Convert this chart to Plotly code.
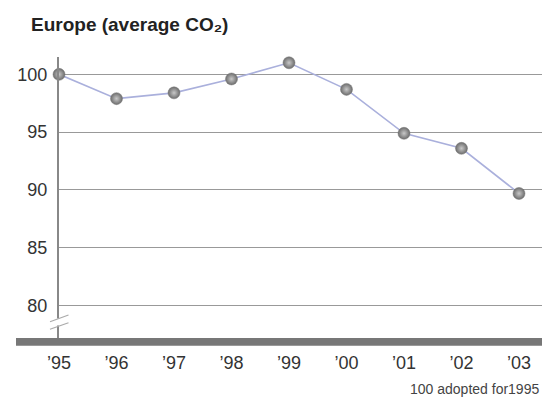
import plotly.graph_objects as go

years = [1995, 1996, 1997, 1998, 1999, 2000, 2001, 2002, 2003]
tick_labels = ["’95", "’96", "’97", "’98", "’99", "’00", "’01", "’02", "’03"]
co2_index = [100.0, 97.9, 98.4, 99.6, 101.0, 98.7, 94.9, 93.6, 89.7]
y_ticks = [80, 85, 90, 95, 100]

W, H = 542, 398
L, R, T, B = 59, 0, 57, 60
PW, PH = W - L - R, H - T - B


def px(x):
    return (x - L) / PW


def py(y):
    return (H - B - y) / PH


fig = go.Figure()
fig.add_trace(go.Scatter(
    x=years, y=co2_index, mode="lines+markers",
    line=dict(color="#aab0dc", width=1.6),
    marker=dict(size=12, color="#6c6c6c",
                gradient=dict(type="radial", color="#c8c8c8"),
                line=dict(width=0.5, color="#777777")),
    cliponaxis=False, hoverinfo="skip", showlegend=False,
))

font = "Liberation Sans, Arial, sans-serif"
shapes = [
    # thick bottom bar
    dict(type="rect", xref="paper", yref="paper", x0=px(16), x1=1.0,
         y0=py(345.7), y1=py(338), fillcolor="#777777", line=dict(width=0), layer="above"),
    # gap in y axis line
    dict(type="rect", xref="paper", yref="paper", x0=px(56), x1=px(62),
         y0=py(325.5), y1=py(318.5), fillcolor="white", line=dict(width=0), layer="above"),
    # break marks
    dict(type="line", xref="paper", yref="paper", x0=px(50), x1=px(68.5),
         y0=py(321.7), y1=py(315), line=dict(color="#aaaaaa", width=1.2), layer="above"),
    dict(type="line", xref="paper", yref="paper", x0=px(50), x1=px(68.5),
         y0=py(329.3), y1=py(322.7), line=dict(color="#aaaaaa", width=1.2), layer="above"),
]

fig.update_layout(
    width=W, height=H,
    margin=dict(l=L, r=R, t=T, b=B),
    paper_bgcolor="white", plot_bgcolor="white",
    font=dict(family=font, color="#333333"),
    title=dict(text="<b>Europe (average CO₂)</b>", xref="container", yref="container",
               x=31 / W, xanchor="left", y=1 - 24 / H, yanchor="middle",
               font=dict(size=19, color="#222222", family=font)),
    xaxis=dict(range=[1995, 1995 + PW / 57.5], tickvals=years, ticktext=tick_labels,
               showgrid=False, zeroline=False, showline=False, ticks="",
               tickfont=dict(size=18, color="#333333"), ticklabelstandoff=12,
               fixedrange=True),
    yaxis=dict(range=[77.2, 101.5], tickvals=y_ticks, ticktext=[str(v) for v in y_ticks],
               showgrid=True, gridcolor="#999999", gridwidth=1, zeroline=False,
               showline=True, linecolor="#888888", linewidth=2, ticks="",
               tickfont=dict(size=18, color="#333333"), ticklabelstandoff=6,
               fixedrange=True),
    shapes=shapes,
    annotations=[dict(text="100 adopted for1995", xref="paper", yref="paper",
                      x=px(541), y=py(389), xanchor="right", yanchor="middle",
                      showarrow=False, font=dict(size=14, color="#444444", family=font))],
)

fig.write_html("out.html", config={"displayModeBar": False},
               post_script="document.body.style.margin='0';document.body.style.padding='0';document.body.style.overflow='hidden';")
